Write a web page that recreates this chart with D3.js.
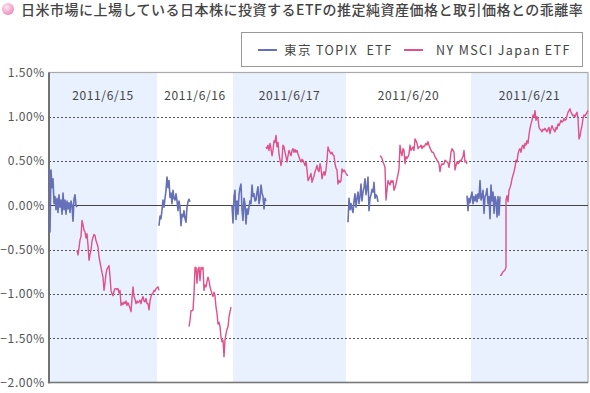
<!DOCTYPE html>
<html><head><meta charset="utf-8">
<script src="https://cdn.jsdelivr.net/npm/d3@7"></script>
<style>body{margin:0;background:#fff;} svg{display:block;}</style>
</head><body>
<script>
const title = "日米市場に上場している日本株に投資するETFの推定純資産価格と取引価格との乖離率";
const seriesNames = ["東京 TOPIX  ETF", "NY MSCI Japan ETF"];
const dayLabels = ["2011/6/15","2011/6/16","2011/6/17","2011/6/20","2011/6/21"];
const dayBounds = [0,108,184,297,422,539];
const yTicks = [1.5,1.0,0.5,0,-0.5,-1.0,-1.5,-2.0];

const topix = [
 [[0,0.42],[1,0.35],[1,-0.30],[2,0.40],[3,0.20],[4,0.30],[5,0.02],[6,0.10],[7,-0.05],[8,0.08],[9,-0.08],[10,0.12],[11,-0.02],[12,0.06],[13,-0.10],[14,0.14],[15,-0.05],[16,0.06],[17,-0.10],[18,0.05],[19,-0.04],[20,0.03],[21,-0.08],[22,0.05],[23,0.00],[24,-0.18],[25,0.07],[26,0.12],[27,0.00],[28,-0.02]],
 [[110,-0.23],[111,-0.12],[112,-0.15],[113,-0.05],[114,0.06],[115,-0.02],[116,0.08],[117,0.17],[118,0.32],[119,0.20],[120,0.28],[121,0.09],[122,0.14],[123,0.02],[124,0.17],[125,0.08],[126,0.06],[127,0.13],[128,0.05],[129,-0.06],[130,0.05],[131,-0.02],[132,-0.23],[133,-0.10],[134,-0.13],[135,-0.06],[136,-0.15],[137,-0.19],[138,-0.02],[139,0.04],[140,0.07],[141,0.04]],
 [[183,0.0],[184,-0.20],[185,0.10],[186,0.17],[187,-0.16],[188,0.05],[189,-0.10],[190,0.12],[191,0.20],[192,0.24],[193,-0.05],[194,-0.17],[195,0.08],[196,0.02],[197,-0.21],[198,-0.04],[199,-0.10],[200,-0.02],[201,0.05],[202,0.02],[203,0.23],[204,0.10],[205,0.13],[206,0.05],[207,0.06],[208,0.15],[209,0.21],[210,0.02],[211,0.08],[212,0.23],[213,0.14],[214,0.10],[215,-0.04],[216,0.08],[217,0.05]],
 [[299,-0.19],[300,0.08],[301,-0.05],[302,0.02],[303,-0.04],[304,-0.08],[305,0.05],[306,0.13],[307,-0.02],[308,0.08],[309,0.15],[310,0.02],[311,0.10],[312,0.24],[313,0.05],[314,0.15],[315,0.20],[316,0.30],[317,0.12],[318,0.20],[319,0.32],[320,-0.06],[321,0.08],[322,0.12],[323,0.18],[324,0.15],[325,0.26],[326,0.08],[327,0.12],[328,0.10],[329,0.04]],
 [[418,0.11],[419,-0.06],[420,0.08],[421,0.03],[422,0.10],[423,0.15],[424,0.02],[425,0.10],[426,0.05],[427,0.12],[428,0.04],[429,0.13],[430,0.08],[431,0.28],[432,0.06],[433,0.10],[434,0.17],[435,-0.09],[436,0.10],[437,0.12],[438,0.19],[439,0.02],[440,0.10],[441,-0.15],[442,0.23],[443,0.05],[444,0.15],[445,-0.09],[446,0.10],[447,0.05],[448,-0.13],[449,0.10],[450,-0.11],[451,0.10]]
];

const msci = [
 [[28,-0.51],[29,-0.56],[30,-0.48],[31,-0.39],[32,-0.35],[33,-0.17],[34,-0.22],[35,-0.28],[36,-0.30],[37,-0.37],[38,-0.32],[39,-0.45],[40,-0.62],[41,-0.55],[42,-0.51],[43,-0.40],[44,-0.36],[45,-0.33],[46,-0.34],[47,-0.40],[48,-0.43],[49,-0.47],[50,-0.58],[51,-0.64],[52,-0.70],[53,-0.76],[54,-0.81],[55,-0.96],[56,-0.88],[57,-0.77],[58,-0.72],[59,-0.70],[60,-0.68],[61,-0.80],[62,-0.96],[63,-1.00],[64,-1.02],[65,-0.97],[66,-0.94],[67,-0.94],[68,-0.95],[69,-0.94],[70,-0.99],[71,-0.96],[72,-1.13],[73,-1.10],[74,-1.12],[75,-1.09],[76,-1.11],[77,-1.08],[78,-1.13],[79,-1.10],[80,-1.13],[81,-1.16],[82,-1.20],[83,-1.05],[84,-0.92],[85,-1.03],[86,-1.06],[87,-1.11],[88,-1.08],[89,-1.10],[90,-1.09],[91,-1.07],[92,-1.11],[93,-1.06],[94,-1.03],[95,-1.08],[96,-1.09],[97,-1.05],[98,-1.11],[99,-1.11],[100,-1.18],[101,-1.08],[102,-1.03],[103,-1.00],[104,-0.99],[105,-0.96],[106,-0.97],[107,-0.94],[108,-0.93],[109,-0.92],[110,-0.96]],
 [[140,-1.37],[141,-1.30],[142,-1.19],[143,-1.19],[144,-1.18],[145,-1.00],[146,-0.70],[147,-0.70],[148,-0.88],[149,-0.72],[150,-0.70],[151,-0.85],[152,-0.70],[153,-0.72],[154,-0.70],[155,-0.96],[156,-0.90],[157,-0.92],[158,-0.86],[159,-0.81],[160,-0.85],[161,-0.92],[162,-0.96],[163,-1.00],[164,-1.03],[165,-0.98],[166,-1.02],[167,-1.15],[168,-1.22],[169,-1.34],[170,-1.32],[171,-1.37],[172,-1.49],[173,-1.54],[174,-1.52],[175,-1.71],[176,-1.52],[177,-1.45],[178,-1.40],[179,-1.37],[180,-1.26],[181,-1.20],[182,-1.15]],
 [[217,0.66],[218,0.64],[219,0.68],[220,0.62],[221,0.70],[222,0.64],[223,0.56],[224,0.62],[225,0.73],[226,0.71],[227,0.79],[228,0.66],[229,0.71],[230,0.58],[231,0.51],[232,0.45],[233,0.52],[234,0.68],[235,0.66],[236,0.60],[237,0.55],[238,0.49],[239,0.56],[240,0.62],[241,0.59],[242,0.56],[243,0.62],[244,0.64],[245,0.60],[246,0.63],[247,0.60],[248,0.62],[249,0.58],[250,0.55],[251,0.51],[252,0.49],[253,0.52],[254,0.51],[255,0.48],[256,0.45],[257,0.49],[258,0.40],[259,0.28],[260,0.30],[261,0.33],[262,0.36],[263,0.26],[264,0.30],[265,0.33],[266,0.38],[267,0.41],[268,0.45],[269,0.40],[270,0.38],[271,0.47],[272,0.42],[273,0.30],[274,0.35],[275,0.38],[276,0.34],[277,0.40],[278,0.51],[279,0.66],[280,0.62],[281,0.60],[282,0.58],[283,0.60],[284,0.57],[285,0.56],[286,0.47],[287,0.42],[288,0.40],[289,0.24],[290,0.28],[291,0.26],[292,0.28],[293,0.41],[294,0.38],[295,0.40],[296,0.38],[297,0.36],[298,0.34],[299,0.34]],
 [[331,0.56],[332,0.55],[333,0.53],[334,0.49],[335,0.46],[336,0.43],[337,0.06],[338,0.17],[339,0.28],[340,0.25],[341,0.23],[342,0.28],[343,0.26],[344,0.28],[345,0.17],[346,0.20],[347,0.24],[348,0.30],[349,0.35],[350,0.41],[351,0.68],[352,0.60],[353,0.56],[354,0.64],[355,0.62],[356,0.47],[357,0.55],[358,0.53],[359,0.55],[360,0.58],[361,0.68],[362,0.62],[363,0.64],[364,0.66],[365,0.62],[366,0.75],[367,0.73],[368,0.70],[369,0.64],[370,0.66],[371,0.66],[372,0.68],[373,0.64],[374,0.67],[375,0.66],[376,0.68],[377,0.70],[378,0.68],[379,0.72],[380,0.68],[381,0.65],[382,0.62],[383,0.60],[384,0.60],[385,0.58],[386,0.55],[387,0.53],[388,0.51],[389,0.49],[390,0.47],[391,0.38],[392,0.45],[393,0.47],[394,0.46],[395,0.47],[396,0.51],[397,0.50],[398,0.49],[399,0.48],[400,0.43],[401,0.50],[402,0.60],[403,0.64],[404,0.62],[405,0.60],[406,0.40],[407,0.45],[408,0.49],[409,0.47],[410,0.48],[411,0.51],[412,0.50],[413,0.53],[414,0.55],[415,0.62],[416,0.49],[417,0.50],[418,0.47]],
 [[451,-0.79],[452,-0.79],[453,-0.77],[454,-0.75],[455,-0.74],[456,-0.73],[457,-0.70],[457,0.06],[458,0.11],[459,0.04],[460,0.17],[461,0.20],[462,0.24],[463,0.30],[464,0.34],[465,0.38],[466,0.43],[467,0.51],[468,0.49],[469,0.58],[470,0.62],[471,0.64],[472,0.60],[473,0.66],[474,0.68],[475,0.64],[476,0.70],[477,0.68],[478,0.73],[479,0.70],[480,0.80],[481,0.87],[482,0.92],[483,0.96],[484,1.02],[485,1.00],[486,1.07],[487,0.96],[488,1.00],[489,0.98],[490,0.88],[491,0.86],[492,0.85],[493,0.83],[494,0.86],[495,0.85],[496,0.87],[497,0.85],[498,0.83],[499,0.86],[500,0.88],[501,0.81],[502,0.86],[503,0.90],[504,0.87],[505,0.85],[506,0.83],[507,0.88],[508,0.86],[509,0.92],[510,0.90],[511,0.93],[512,0.96],[513,0.94],[514,0.95],[515,0.98],[516,0.96],[517,0.97],[518,1.01],[519,1.05],[520,1.07],[521,1.09],[522,1.05],[523,1.03],[524,1.01],[525,1.02],[526,1.00],[527,1.03],[528,1.05],[529,0.98],[530,0.75],[531,0.78],[532,0.85],[533,0.90],[534,0.98],[535,1.02],[536,1.01],[537,1.03],[538,1.05],[539,1.07]]
];

const W = 590, H = 393;
const M = {left:49, right:2, top:72.5, bottom:10.5};
const colors = ["#6670b8", "#e0508a"];
const font = "'Noto Sans CJK JP', 'Noto Sans', sans-serif";

const svg = d3.select("body").append("svg").attr("width", W).attr("height", H);

const x = d3.scaleLinear().domain([dayBounds[0], dayBounds[dayBounds.length-1]]).range([M.left, W - M.right]);
const y = d3.scaleLinear().domain([-2, 1.5]).range([H - M.bottom, M.top]);

// title
const grad = svg.append("defs").append("radialGradient").attr("id","dot").attr("cx","40%").attr("cy","35%").attr("r","65%");
grad.append("stop").attr("offset","0%").attr("stop-color","#fde6f1");
grad.append("stop").attr("offset","100%").attr("stop-color","#eb8fbe");
svg.append("circle").attr("cx",8).attr("cy",9).attr("r",6).attr("fill","url(#dot)");
svg.append("text").attr("x",21).attr("y",14.5).attr("font-family",font).attr("font-size",14)
  .attr("letter-spacing",0.5).attr("font-weight",500).attr("fill","#444").text(title);

// bands
svg.append("g").selectAll("rect").data(dayLabels).join("rect")
  .attr("x",(d,i)=>x(dayBounds[i])).attr("y",y(1.5))
  .attr("width",(d,i)=>x(dayBounds[i+1])-x(dayBounds[i])).attr("height",y(-2)-y(1.5))
  .attr("fill",(d,i)=> i%2===0 ? "#e8f1fd" : "#ffffff");

// day labels
svg.append("g").selectAll("text").data(dayLabels).join("text")
  .attr("x",(d,i)=>(x(dayBounds[i])+x(dayBounds[i+1]))/2).attr("y",y(1.5)+27)
  .attr("text-anchor","middle").attr("font-family",font).attr("font-size",12)
  .attr("letter-spacing",0.6).attr("fill","#444").text(d=>d);

// grid
svg.append("g").selectAll("line").data(yTicks.filter(v=>v!==0 && v!==1.5 && v!==-2)).join("line")
  .attr("x1",x(dayBounds[0])).attr("x2",x(dayBounds[5]))
  .attr("y1",d=>Math.round(y(d))+0.5).attr("y2",d=>Math.round(y(d))+0.5)
  .attr("stroke","#555").attr("stroke-width",1).attr("stroke-dasharray","2,2");

// frame
svg.append("rect").attr("x",x(dayBounds[0])).attr("y",y(1.5)).attr("width",x(dayBounds[5])-x(dayBounds[0]))
  .attr("height",y(-2)-y(1.5)).attr("fill","none").attr("stroke","#aaa").attr("stroke-width",1.2);
svg.append("line").attr("x1",x(0)).attr("x2",x(0)).attr("y1",y(1.5)).attr("y2",y(-2)+1).attr("stroke","#555").attr("stroke-width",1.5);
svg.append("line").attr("x1",x(0)).attr("x2",x(dayBounds[5])).attr("y1",y(-2)).attr("y2",y(-2)).attr("stroke","#777").attr("stroke-width",1.5);
svg.append("line").attr("x1",x(0)).attr("x2",x(dayBounds[5])).attr("y1",Math.round(y(0))+0.5).attr("y2",Math.round(y(0))+0.5).attr("stroke","#444").attr("stroke-width",1.2);

// y axis labels
const yAxis = d3.axisLeft(y).tickValues(yTicks).tickSize(0).tickPadding(4).tickFormat(d=>d3.format(".2f")(d)+"%");
const ga = svg.append("g").attr("transform",`translate(${M.left},0)`).call(yAxis);
ga.select(".domain").remove();
ga.selectAll("text").attr("font-family",font).attr("font-size",12).attr("fill","#555").attr("letter-spacing",0.6);

// lines
const line = d3.line().x(d=>x(d[0])).y(d=>y(d[1]));
[topix, msci].forEach((ser,si)=>{
  svg.append("g").selectAll("path").data(ser).join("path")
    .attr("d",line).attr("fill","none").attr("stroke",colors[si])
    .attr("stroke-width", si===0?1.6:1.4).attr("stroke-linejoin","round");
});

// legend
const lg = svg.append("g");
lg.append("rect").attr("x",241.5).attr("y",32.5).attr("width",341).attr("height",34).attr("fill","#fff").attr("stroke","#999");
const legX = [[258,284],[404,436]];
seriesNames.forEach((n,i)=>{
  lg.append("line").attr("x1",legX[i][0]).attr("x2",legX[i][0]+19).attr("y1",50).attr("y2",50).attr("stroke",colors[i]).attr("stroke-width",2);
  lg.append("text").attr("x",legX[i][1]).attr("y",54.5).attr("font-family",font).attr("font-size",12.5)
    .attr("letter-spacing",1.4).attr("fill","#444").attr("xml:space","preserve").style("white-space","pre").text(n);
});
</script>
</body></html>
